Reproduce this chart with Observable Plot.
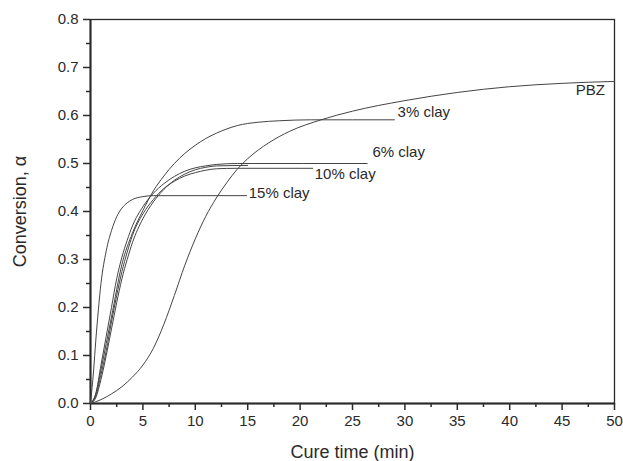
<!DOCTYPE html>
<html>
<head>
<meta charset="utf-8">
<script src="https://cdn.jsdelivr.net/npm/d3@7"></script>
<script src="https://cdn.jsdelivr.net/npm/@observablehq/plot@0.6"></script>
<style>
  html, body { margin: 0; padding: 0; background: #fff; }
  svg { display: block; }
</style>
</head>
<body>
<div id="chart"></div>
<script>
// ---- Data ----
const seriesNames = ["PBZ", "3% clay", "6% clay", "10% clay", "extra", "15% clay"];

const pbzT = [0, 1, 2, 3, 4, 5, 6, 7, 8, 9, 10, 11, 12, 13, 14, 15, 17, 19, 22, 25, 30, 35, 40, 45, 50];
const pbzA = [0, 0.008, 0.02, 0.035, 0.055, 0.08, 0.115, 0.165, 0.225, 0.288, 0.343, 0.39, 0.428, 0.46, 0.488, 0.51, 0.543, 0.567, 0.591, 0.609, 0.631, 0.648, 0.66, 0.667, 0.671];

const clay3T = [0, 0.5, 1, 1.5, 2, 3, 4, 5, 6, 7, 8, 9, 10, 11, 12, 13, 14, 16, 18, 21, 29];
const clay3A = [0, 0.02, 0.07, 0.125, 0.18, 0.29, 0.355, 0.402, 0.443, 0.474, 0.5, 0.521, 0.538, 0.552, 0.563, 0.572, 0.579, 0.586, 0.589, 0.591, 0.591];

const clay6T = [0, 0.5, 1, 1.5, 2, 2.5, 3, 3.5, 4, 5, 6, 7, 8, 9, 10, 11, 12, 14, 26.4];
const clay6A = [0, 0.02, 0.08, 0.14, 0.2, 0.26, 0.305, 0.34, 0.37, 0.41, 0.438, 0.458, 0.473, 0.484, 0.491, 0.495, 0.498, 0.5, 0.5];

const clay10T = [0, 0.5, 1, 1.5, 2, 2.5, 3, 3.5, 4, 5, 6, 7, 8, 9, 10, 11, 12, 14, 21.2];
const clay10A = [0, 0.015, 0.06, 0.11, 0.17, 0.225, 0.275, 0.315, 0.35, 0.395, 0.425, 0.448, 0.463, 0.474, 0.481, 0.486, 0.489, 0.49, 0.49];

const extraT = [0, 0.5, 1, 1.5, 2, 2.5, 3, 3.5, 4, 5, 6, 7, 8, 9, 10, 11, 12, 15];
const extraA = [0, 0.012, 0.05, 0.1, 0.155, 0.21, 0.26, 0.3, 0.335, 0.385, 0.42, 0.446, 0.465, 0.478, 0.487, 0.492, 0.495, 0.496];

const clay15T = [0, 0.3, 0.5, 0.75, 1, 1.5, 2, 2.5, 3, 3.5, 4, 5, 6, 14.9];
const clay15A = [0, 0.07, 0.13, 0.195, 0.25, 0.318, 0.36, 0.389, 0.407, 0.418, 0.425, 0.431, 0.433, 0.433];

const labelText = ["PBZ", "3% clay", "6% clay", "10% clay", "15% clay"];
const labelT = [46.3, 29.3, 26.9, 21.4, 15.1];
const labelA = [0.652, 0.607, 0.523, 0.477, 0.4375];

const xTicks = [0, 5, 10, 15, 20, 25, 30, 35, 40, 45, 50];
const yTicks = [0, 0.1, 0.2, 0.3, 0.4, 0.5, 0.6, 0.7, 0.8];

// ---- Build table ----
const allT = [pbzT, clay3T, clay6T, clay10T, extraT, clay15T];
const allA = [pbzA, clay3A, clay6A, clay10A, extraA, clay15A];
const rows = [];
seriesNames.forEach((name, i) => {
  allT[i].forEach((t, j) => rows.push({series: name, t, a: allA[i][j]}));
});
const labels = labelText.map((s, i) => ({s, t: labelT[i], a: labelA[i]}));

const xMinor = d3.range(0, 50.01, 2.5).filter(v => !xTicks.includes(v));
const yMinor = d3.range(0.05, 0.8, 0.1).map(v => +v.toFixed(2));

const font = "'Liberation Sans', Arial, Helvetica, sans-serif";
const ink = "#2a2a2a";

const chart = Plot.plot({
  width: 623,
  height: 461,
  marginLeft: 90,
  marginRight: 9,
  marginTop: 19,
  marginBottom: 58,
  style: {fontFamily: font, fontSize: "15px", color: ink, background: "#fff"},
  x: {domain: [0, 50]},
  y: {domain: [0, 0.8]},
  marks: [
    Plot.frame({stroke: ink, strokeWidth: 1.3}),
    Plot.axisX(xMinor, {tickSize: 4, text: null, stroke: ink, strokeWidth: 1.5, label: null}),
    Plot.axisY(yMinor, {tickSize: 4, text: null, stroke: ink, strokeWidth: 1.5, label: null}),
    Plot.axisX(xTicks, {tickSize: 7, tickPadding: 5, stroke: ink, strokeWidth: 1.5, fill: ink,
      label: "Cure time (min)", labelAnchor: "center", labelArrow: "none", labelOffset: 54, fontSize: 15}),
    Plot.axisY(yTicks, {tickSize: 7, tickPadding: 5, stroke: ink, strokeWidth: 1.5, fill: ink,
      tickFormat: d3.format(".1f"),
      label: "Conversion, α", labelAnchor: "center", labelArrow: "none", labelOffset: 77, fontSize: 15}),
    Plot.ruleX([0], {stroke: ink, strokeWidth: 2}),
    Plot.ruleY([0], {stroke: ink, strokeWidth: 2}),
    Plot.line(rows, {x: "t", y: "a", z: "series", stroke: "#444", strokeWidth: 1, curve: "monotone-x"}),
    Plot.text(labels, {x: "t", y: "a", text: "s", textAnchor: "start", fill: ink, fontSize: 15})
  ]
});

// Enlarge axis titles
chart.querySelectorAll("g[aria-label='x-axis label'] text, g[aria-label='y-axis label'] text").forEach(t => {
  t.setAttribute("font-size", "18");
});
document.getElementById("chart").appendChild(chart);
</script>
</body>
</html>
